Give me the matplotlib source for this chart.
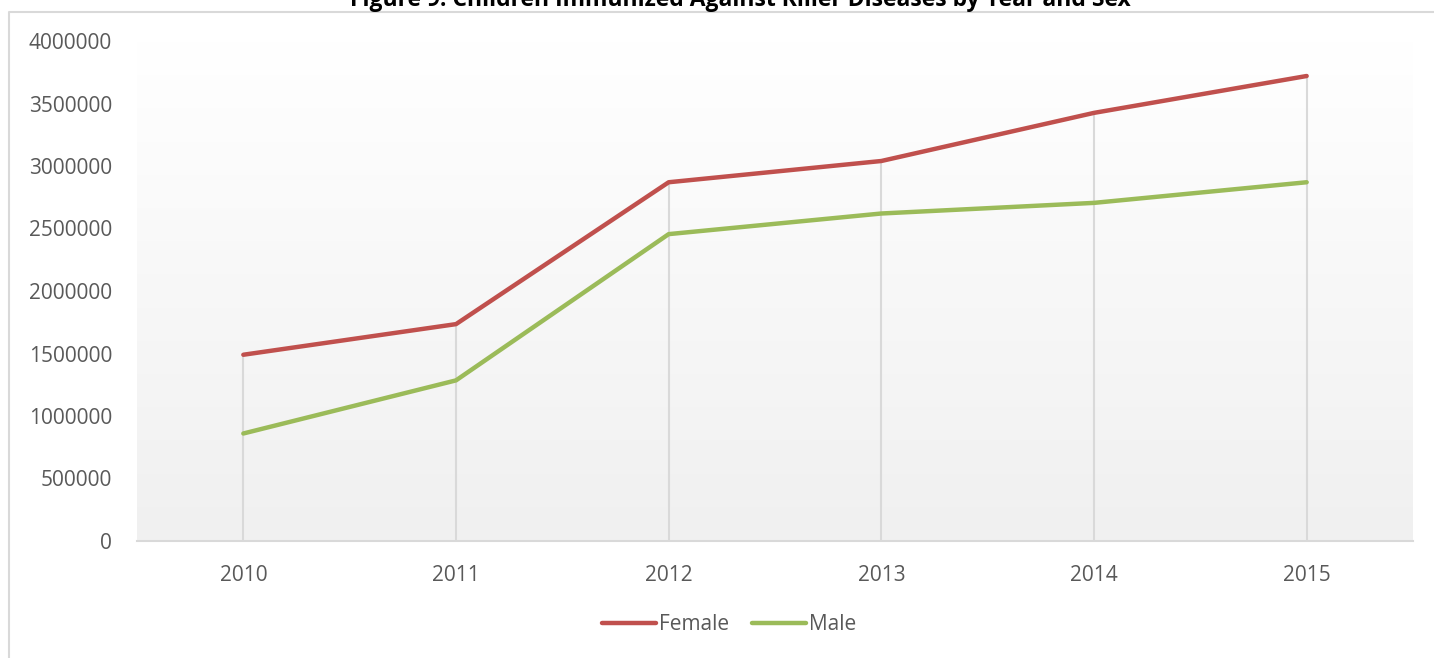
import numpy as np
import matplotlib
matplotlib.use("Agg")
import matplotlib.pyplot as plt
from matplotlib.lines import Line2D

years = ["2010", "2011", "2012", "2013", "2014", "2015"]
female = [1490000, 1735000, 2870000, 3040000, 3425000, 3720000]
male = [860000, 1285000, 2455000, 2620000, 2705000, 2870000]
yticks = [0, 500000, 1000000, 1500000, 2000000, 2500000, 3000000, 3500000, 4000000]

plt.rcParams['font.family'] = ['Open Sans', 'DejaVu Sans']

W, H = 1434, 658
fig = plt.figure(figsize=(W / 100, H / 100), dpi=100)

# outer chart frame (only top and left edges are visible)
fig.lines.append(Line2D([9 / W, 9 / W, 1.0], [0.0, 1 - 12 / H, 1 - 12 / H], transform=fig.transFigure,
                        color="#d9d9d9", linewidth=1.5))

ax = fig.add_axes([137 / W, (H - 541) / H, (1413 - 137) / W, (541 - 41) / H])
x = np.arange(len(years))

# gradient plot area: white at top, light grey at the bottom
grad = np.linspace(0, 1, 256).reshape(-1, 1)
cmap = matplotlib.colors.LinearSegmentedColormap.from_list("g", ["#ffffff", "#f0f0f0"])
ax.imshow(grad, extent=[-0.5, 5.5, 0, 4000000], aspect="auto", cmap=cmap,
          vmin=0, vmax=1, zorder=0, origin="upper", interpolation="bilinear")

# drop lines
ax.vlines(x, 0, female, color="#d9d9d9", linewidth=1.5, zorder=1)

ax.plot(x, female, color="#c0504d", linewidth=3.2, label="Female", zorder=3, solid_capstyle="round")
ax.plot(x, male, color="#9bbb59", linewidth=3.2, label="Male", zorder=3, solid_capstyle="round")

ax.set_xlim(-0.5, 5.5)
ax.set_ylim(0, 4000000)
ax.set_xticks(x)
ax.set_xticklabels(years)
ax.set_yticks(yticks)
ax.set_yticklabels([str(v) for v in yticks])
ax.tick_params(axis="both", length=0, labelsize=15, colors="#595959")
ax.tick_params(axis="x", pad=17)
ax.tick_params(axis="y", pad=18)
for s in ["top", "right", "left"]:
    ax.spines[s].set_visible(False)
ax.spines["bottom"].set_color("#d9d9d9")
ax.spines["bottom"].set_linewidth(1.5)

fig.text(740 / W, 1 - 6 / H, "Figure 9: Children Immunized Against Killer Diseases by Year and Sex",
         ha="center", va="baseline", fontsize=16.5, fontweight="bold", color="#000000")

fig.legend(loc="center", bbox_to_anchor=(729 / W, 1 - 625 / H), ncol=2, frameon=False,
           fontsize=15, handlelength=2.6, handletextpad=0.15, columnspacing=1.1,
           labelcolor="#595959")

fig.savefig("out.png", dpi=100)
